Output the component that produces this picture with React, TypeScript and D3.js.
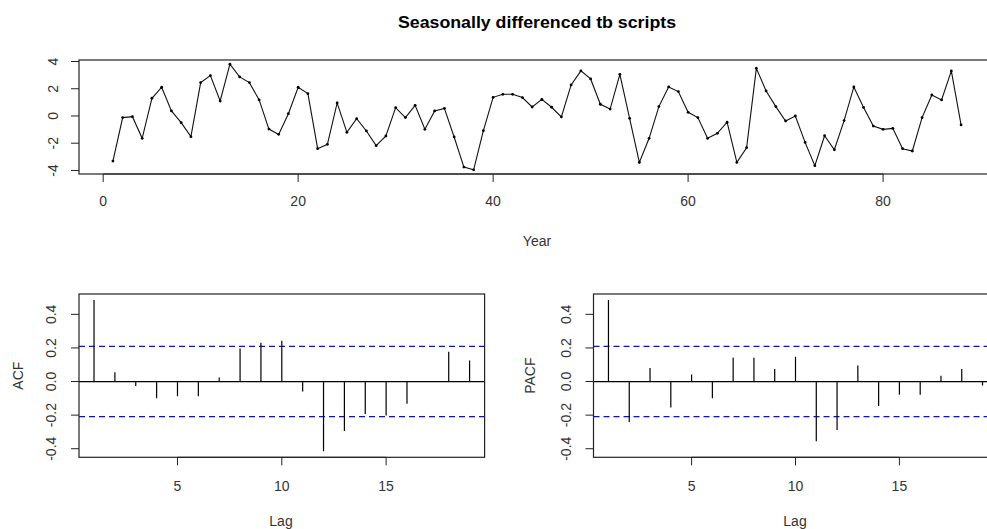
import React from "react";
import * as d3 from "d3";

// ---- data ----
const series: number[] = [
  -3.31, -0.12, -0.05, -1.64, 1.3, 2.11, 0.37, -0.49, -1.52, 2.45,
  2.97, 1.1, 3.8, 2.87, 2.45, 1.18, -0.96, -1.35, 0.17, 2.11,
  1.64, -2.4, -2.08, 0.96, -1.2, -0.2, -1.1, -2.18, -1.47, 0.61,
  -0.12, 0.78, -0.98, 0.37, 0.56, -1.54, -3.75, -3.95, -1.08, 1.37,
  1.59, 1.59, 1.35, 0.66, 1.22, 0.64, -0.07, 2.28, 3.31, 2.72,
  0.86, 0.51, 3.06, -0.17, -3.41, -1.64, 0.69, 2.13, 1.79, 0.27,
  -0.12, -1.64, -1.27, -0.46, -3.41, -2.33, 3.5, 1.84, 0.69, -0.37,
  0.0, -1.94, -3.65, -1.45, -2.48, -0.34, 2.13, 0.63, -0.74, -0.98,
  -0.91, -2.4, -2.57, -0.12, 1.54, 1.18, 3.31, -0.66,
];
const lags: number[] = d3.range(1, 20);
const acfValues: number[] = [
  0.485, 0.055, -0.026, -0.099, -0.087, -0.087, 0.024, 0.196, 0.231, 0.243,
  -0.059, -0.415, -0.295, -0.194, -0.202, -0.133, 0.003, 0.178, 0.125,
];
const pacfValues: number[] = [
  0.485, -0.241, 0.081, -0.154, 0.042, -0.099, 0.142, 0.142, 0.075, 0.148,
  -0.356, -0.289, 0.095, -0.146, -0.079, -0.079, 0.034, 0.075, -0.024,
];
const topYTicks: number[] = [-4, -2, 0, 2, 4];
const topXTicks: number[] = [0, 20, 40, 60, 80];
const acfYTicks: number[] = [-0.4, -0.2, 0.0, 0.2, 0.4];
const acfYTickLabels: string[] = ["-0.4", "-0.2", "0.0", "0.2", "0.4"];
const lagTicks: number[] = [5, 10, 15];
const title = "Seasonally differenced tb scripts";

const FONT = "'Liberation Sans', Arial, sans-serif";
const FS = 14;

function pad(ext: [number, number]): [number, number] {
  const r = ext[1] - ext[0];
  return [ext[0] - 0.04 * r, ext[1] + 0.04 * r];
}

const n = series.length;
const ci = 1.96 / Math.sqrt(n);
const lim = 3 / Math.sqrt(n);
const allCorr = [...acfValues, ...pacfValues, -lim, lim];
const corrDomain = pad([d3.min(allCorr)!, d3.max(allCorr)!]);

function Box({ x0, x1, y0, y1 }: { x0: number; x1: number; y0: number; y1: number }) {
  return (
    <rect x={x0} y={y0} width={x1 - x0} height={y1 - y0} fill="none" stroke="#222" strokeWidth={1.2} />
  );
}

function CorrPanel({ values, left, right, label, labelX, lagX }: { values: number[]; left: number; right: number; label: string; labelX: number; lagX: number }) {
  const top = 294, bottom = 457.3;
  const x = d3.scaleLinear().domain(pad([1, 19])).range([left, right]);
  const y = d3.scaleLinear().domain(corrDomain).range([bottom, top]);
  return (
    <g>
      <defs>
        <clipPath id={"clip" + label}>
          <rect x={left} y={top} width={right - left} height={bottom - top} />
        </clipPath>
      </defs>
      <g clipPath={`url(#clip${label})`}>
        <line x1={left} x2={right} y1={y(0)} y2={y(0)} stroke="#000" strokeWidth={1.2} />
        {[ci, -ci].map((c, i) => (
          <line key={i} x1={left} x2={right} y1={y(c)} y2={y(c)} stroke="#1010c8" strokeWidth={1.2} strokeDasharray="6,4" />
        ))}
        {values.map((v, i) => (
          <line key={i} x1={x(lags[i])} x2={x(lags[i])} y1={y(0)} y2={y(v)} stroke="#000" strokeWidth={1.2} />
        ))}
      </g>
      <Box x0={left} x1={right} y0={top} y1={bottom} />
      {acfYTicks.map((t, i) => (
        <g key={i}>
          <line x1={left - 8} x2={left} y1={y(t)} y2={y(t)} stroke="#222" />
          <text transform={`translate(${left - 23},${y(t)}) rotate(-90)`} textAnchor="middle" fontSize={FS} fill="#333" fontFamily={FONT}>
            {acfYTickLabels[i]}
          </text>
        </g>
      ))}
      <line x1={x(5)} x2={x(15)} y1={bottom} y2={bottom} stroke="#222" />
      {lagTicks.map((t) => (
        <g key={t}>
          <line x1={x(t)} x2={x(t)} y1={bottom} y2={bottom + 8} stroke="#222" />
          <text x={x(t)} y={491} textAnchor="middle" fontSize={FS} fill="#333" fontFamily={FONT}>
            {t}
          </text>
        </g>
      ))}
      <text x={lagX} y={526} textAnchor="middle" fontSize={FS} fill="#333" fontFamily={FONT}>
        Lag
      </text>
      <text transform={`translate(${labelX},${(top + bottom) / 2}) rotate(-90)`} textAnchor="middle" fontSize={FS} fill="#333" fontFamily={FONT}>
        {label}
      </text>
    </g>
  );
}

export default function App() {
  const left = 79, right = 995, top = 60, bottom = 174;
  const x = d3.scaleLinear().domain(pad([1, n])).range([left, right]);
  const y = d3.scaleLinear().domain(pad([d3.min(series)!, d3.max(series)!])).range([bottom, top]);
  const line = d3
    .line<number>()
    .x((_, i) => x(i + 1))
    .y((d) => y(d));
  return (
    <svg width={987} height={529} style={{ position: "absolute", left: 0, top: 0, background: "#fff" }}>
      <rect width={987} height={529} fill="#fff" />
      <text x={537} y={28} textAnchor="middle" fontSize={16} fontWeight="bold" fill="#000" fontFamily={FONT} textLength={278} lengthAdjust="spacingAndGlyphs">
        {title}
      </text>
      <path d={line(series)!} fill="none" stroke="#111" strokeWidth={1.1} />
      {series.map((v, i) => (
        <circle key={i} cx={x(i + 1)} cy={y(v)} r={1.4} fill="#000" />
      ))}
      <Box x0={left} x1={right} y0={top} y1={bottom} />
      {topYTicks.map((t) => (
        <g key={t}>
          <line x1={left - 8} x2={left} y1={y(t)} y2={y(t)} stroke="#222" />
          <text transform={`translate(${left - 21},${y(t)}) rotate(-90)`} textAnchor="middle" fontSize={FS} fill="#333" fontFamily={FONT}>
            {t}
          </text>
        </g>
      ))}
      <line x1={x(0)} x2={x(80)} y1={bottom} y2={bottom} stroke="#222" />
      {topXTicks.map((t) => (
        <g key={t}>
          <line x1={x(t)} x2={x(t)} y1={bottom} y2={bottom + 8} stroke="#222" />
          <text x={x(t)} y={206} textAnchor="middle" fontSize={FS} fill="#333" fontFamily={FONT}>
            {t}
          </text>
        </g>
      ))}
      <text x={537} y={246} textAnchor="middle" fontSize={FS} fill="#333" fontFamily={FONT}>
        Year
      </text>
      <CorrPanel values={acfValues} left={79} right={484.6} label="ACF" labelX={23} lagX={281} />
      <CorrPanel values={pacfValues} left={593.5} right={997.5} label="PACF" labelX={535} lagX={795} />
    </svg>
  );
}
